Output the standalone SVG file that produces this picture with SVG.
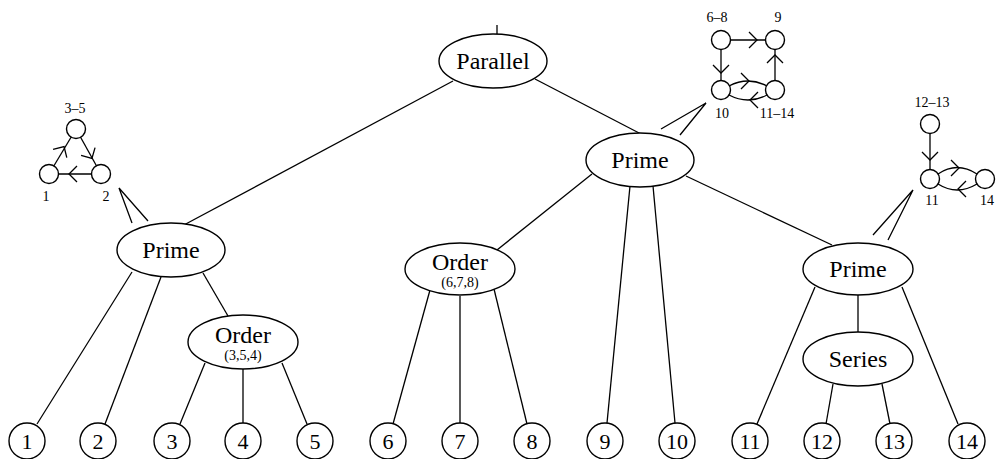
<svg xmlns="http://www.w3.org/2000/svg" xmlns:xlink="http://www.w3.org/1999/xlink" width="999" height="459" viewBox="0 0 999 459">
<style>
.e{fill:#fff;stroke:#000;stroke-width:1.4}
.l{fill:none;stroke:#000;stroke-width:1.3}
.t{font-family:"Liberation Serif","Times New Roman",serif;font-size:24px;text-anchor:middle;fill:#000}
.d{font-family:"Liberation Serif","Times New Roman",serif;font-size:22px;text-anchor:middle;fill:#000}
.s{font-family:"Liberation Serif","Times New Roman",serif;font-size:14px;text-anchor:middle;fill:#000}
.g{font-family:"Liberation Serif","Times New Roman",serif;font-size:14px;text-anchor:middle;fill:#000}
</style>
<defs>
<path id="chev" d="M -4 -8 L 4 0 L -4 8" fill="none" stroke="#000" stroke-width="1.3"/>
</defs>
<rect width="999" height="459" fill="#fff"/>
<g id="connectors">
<line class="l" x1="497" y1="25" x2="497" y2="34"/>
<line class="l" x1="453" y1="81" x2="182" y2="226"/>
<line class="l" x1="535" y1="79" x2="641" y2="134"/>
<line class="l" x1="132" y1="272" x2="37" y2="424"/>
<line class="l" x1="161" y1="277" x2="105" y2="424"/>
<line class="l" x1="203" y1="273" x2="228" y2="316"/>
<line class="l" x1="205" y1="363" x2="180" y2="424"/>
<line class="l" x1="243" y1="369" x2="243" y2="423"/>
<line class="l" x1="282" y1="363" x2="307" y2="424"/>
<line class="l" x1="592" y1="174" x2="497" y2="250"/>
<line class="l" x1="630" y1="186" x2="607" y2="423"/>
<line class="l" x1="653" y1="186" x2="675" y2="423"/>
<line class="l" x1="686" y1="176" x2="832" y2="245"/>
<line class="l" x1="430" y1="290" x2="393" y2="424"/>
<line class="l" x1="460" y1="296" x2="460" y2="423"/>
<line class="l" x1="494" y1="289" x2="527" y2="424"/>
<line class="l" x1="815" y1="287" x2="757" y2="424"/>
<line class="l" x1="858" y1="295" x2="858" y2="332"/>
<line class="l" x1="902" y1="287" x2="958" y2="424"/>
<line class="l" x1="833" y1="384" x2="826" y2="424"/>
<line class="l" x1="882" y1="384" x2="890" y2="424"/>
<!-- cones -->
<polyline class="l" points="132,223 119,188 148,221"/>
<polyline class="l" points="661,129 706,103 680,135"/>
<polyline class="l" points="873,235 913,190 888,240"/>
</g>
<g id="parallel"><ellipse class="e" cx="493" cy="61" rx="54" ry="27"/><text class="t" x="493" y="69">Parallel</text></g>
<g id="prime-left"><ellipse class="e" cx="171" cy="250" rx="54" ry="27"/><text class="t" x="171" y="258">Prime</text></g>
<g id="prime-mid"><ellipse class="e" cx="640" cy="160" rx="54" ry="27"/><text class="t" x="640" y="168">Prime</text></g>
<g id="prime-right"><ellipse class="e" cx="858" cy="269" rx="55" ry="26"/><text class="t" x="858" y="277">Prime</text></g>
<g id="order-354"><ellipse class="e" cx="243" cy="342" rx="55" ry="27"/><text class="t" x="243" y="343">Order</text><text class="s" x="243" y="360">(3,5,4)</text></g>
<g id="order-678"><ellipse class="e" cx="460" cy="269" rx="55" ry="26"/><text class="t" x="460" y="270">Order</text><text class="s" x="460" y="287">(6,7,8)</text></g>
<g id="series"><ellipse class="e" cx="858" cy="359" rx="55" ry="27"/><text class="t" x="858" y="367">Series</text></g>
<g id="leaf1"><circle class="e" cx="27" cy="441" r="18"/><text class="d" x="27" y="449">1</text></g>
<g id="leaf2"><circle class="e" cx="98" cy="441" r="18"/><text class="d" x="98" y="449">2</text></g>
<g id="leaf3"><circle class="e" cx="172" cy="441" r="18"/><text class="d" x="172" y="449">3</text></g>
<g id="leaf4"><circle class="e" cx="243" cy="441" r="18"/><text class="d" x="243" y="449">4</text></g>
<g id="leaf5"><circle class="e" cx="315" cy="441" r="18"/><text class="d" x="315" y="449">5</text></g>
<g id="leaf6"><circle class="e" cx="388" cy="441" r="18"/><text class="d" x="388" y="449">6</text></g>
<g id="leaf7"><circle class="e" cx="460" cy="441" r="18"/><text class="d" x="460" y="449">7</text></g>
<g id="leaf8"><circle class="e" cx="532" cy="441" r="18"/><text class="d" x="532" y="449">8</text></g>
<g id="leaf9"><circle class="e" cx="605" cy="441" r="18"/><text class="d" x="605" y="449">9</text></g>
<g id="leaf10"><circle class="e" cx="677" cy="441" r="18"/><text class="d" x="677" y="449">10</text></g>
<g id="leaf11"><circle class="e" cx="750" cy="441" r="18"/><text class="d" x="750" y="449">11</text></g>
<g id="leaf12"><circle class="e" cx="822" cy="441" r="18"/><text class="d" x="822" y="449">12</text></g>
<g id="leaf13"><circle class="e" cx="894" cy="441" r="18"/><text class="d" x="894" y="449">13</text></g>
<g id="leaf14"><circle class="e" cx="967" cy="441" r="18"/><text class="d" x="967" y="449">14</text></g>
<g id="quotient-left">
<line class="l" x1="49" y1="174" x2="76" y2="129"/>
<line class="l" x1="76" y1="129" x2="101" y2="174"/>
<line class="l" x1="101" y1="174" x2="49" y2="174"/>
<use xlink:href="#chev" transform="translate(62,150) rotate(-59)"/>
<use xlink:href="#chev" transform="translate(90,155) rotate(61)"/>
<use xlink:href="#chev" transform="translate(73,174) rotate(180)"/>
<circle class="e" cx="76" cy="129" r="9.5"/>
<circle class="e" cx="49" cy="174" r="9.5"/>
<circle class="e" cx="101" cy="174" r="9.5"/>
<text class="g" x="75" y="113">3–5</text>
<text class="g" x="46" y="201">1</text>
<text class="g" x="106" y="201">2</text>
</g>
<g id="quotient-mid">
<line class="l" x1="721" y1="40" x2="775" y2="40"/>
<line class="l" x1="721" y1="40" x2="721" y2="90"/>
<line class="l" x1="775" y1="90" x2="775" y2="40"/>
<path class="l" d="M 729 86 Q 748 76 767 86"/>
<path class="l" d="M 767 95 Q 748 105 729 95"/>
<use xlink:href="#chev" transform="translate(753,40)"/>
<use xlink:href="#chev" transform="translate(721,69) rotate(90)"/>
<use xlink:href="#chev" transform="translate(775,59) rotate(-90)"/>
<use xlink:href="#chev" transform="translate(745,81)"/>
<use xlink:href="#chev" transform="translate(754,100) rotate(180)"/>
<circle class="e" cx="721" cy="40" r="9.5"/>
<circle class="e" cx="775" cy="40" r="9.5"/>
<circle class="e" cx="721" cy="90" r="9.5"/>
<circle class="e" cx="775" cy="90" r="9.5"/>
<text class="g" x="717" y="22">6–8</text>
<text class="g" x="778" y="22">9</text>
<text class="g" x="722" y="118">10</text>
<text class="g" x="777" y="118">11–14</text>
</g>
<g id="quotient-right">
<line class="l" x1="930" y1="124" x2="930" y2="179"/>
<path class="l" d="M 938 174 Q 957 161 977 174"/>
<path class="l" d="M 977 184 Q 957 196 938 184"/>
<use xlink:href="#chev" transform="translate(930,156) rotate(90)"/>
<use xlink:href="#chev" transform="translate(955,168)"/>
<use xlink:href="#chev" transform="translate(962,189) rotate(180)"/>
<circle class="e" cx="930" cy="124" r="9.5"/>
<circle class="e" cx="930" cy="179" r="9.5"/>
<circle class="e" cx="985" cy="179" r="9.5"/>
<text class="g" x="932" y="107">12–13</text>
<text class="g" x="932" y="205">11</text>
<text class="g" x="987" y="205">14</text>
</g>
</svg>
